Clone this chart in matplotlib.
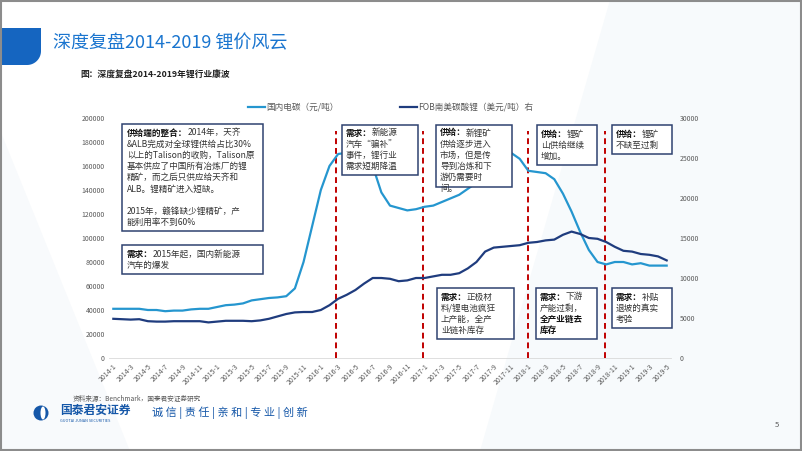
import matplotlib
matplotlib.use("Agg")
import numpy as np
import matplotlib.pyplot as plt
from matplotlib.patches import Rectangle, Polygon, Ellipse

plt.rcParams["font.family"] = ["Noto Sans CJK SC", "DejaVu Sans"]

W, H = 802, 451

# monthly categories 2014-1 .. 2019-5
months = [f"{y}-{m}" for y in range(2014, 2020) for m in range(1, 13)][:65]
tick_labels = months[::2]

# 国内电碳 (元/吨), left axis
domestic = [41000, 41000, 41000, 41000, 40000, 40000, 39000, 39500, 39500, 40500, 41000, 41000,
            42500, 44000, 44500, 45500, 48000, 49000, 50000, 50500, 51500, 58000, 80000, 110000,
            140000, 160000, 170000, 171000, 170000, 168000, 160000, 138000, 127000, 125000, 123000, 124000,
            126000, 127000, 130000, 133000, 136000, 141000, 146000, 150000, 156000, 165000, 171000, 166000,
            156000, 155000, 154000, 149000, 137000, 122000, 105000, 90000, 80000, 78000, 80000, 80000,
            78000, 79000, 77000, 77000, 77000]

# FOB南美碳酸锂 (美元/吨), right axis
fob = [4900, 4850, 4800, 4850, 4600, 4550, 4550, 4600, 4600, 4600, 4600, 4450,
       4550, 4650, 4650, 4650, 4600, 4700, 4900, 5200, 5500, 5700, 5750, 5750,
       6000, 6600, 7400, 7900, 8500, 9300, 10000, 10000, 9900, 9600, 9700, 10000,
       10000, 10200, 10400, 10400, 10600, 11200, 12000, 13300, 13800, 13900, 14000, 14100,
       14400, 14500, 14700, 14800, 15400, 15800, 15500, 15000, 14900, 14500, 13900, 13400,
       13300, 13000, 12900, 12700, 12200]

# turning points (month index)
events = [25.8, 35.8, 48.0, 56.9]

LIGHT = "#2596CF"
DARK = "#1F3C7E"
BLUE = "#1A75CF"
BOX = "#2F4270"
GRAY = "#595959"

fig = plt.figure(figsize=(W / 100, H / 100), dpi=100)
fig.patch.set_facecolor("white")


def P(x, y):
    return x / W, 1 - y / H


# background layer in pixel coordinates
bg = fig.add_axes([0, 0, 1, 1], zorder=-5)
bg.set_xlim(0, W)
bg.set_ylim(H, 0)
bg.axis("off")
bg.add_patch(Polygon([(610, 0), (802, 0), (802, 451), (480, 451)],
                     facecolor="#F7FAFC", edgecolor="none"))
bg.add_patch(Polygon([(0, 130), (130, 451), (0, 451)],
                     facecolor="#F8FAFC", edgecolor="none"))
# header tab with rounded lower-right corner
r = 14
ang = np.linspace(0, np.pi / 2, 20)
tab = [(0, 28), (41, 28)] + [(41 - r + r * np.cos(a), 65 - r + r * np.sin(a)) for a in ang] + [(0, 65)]
bg.add_patch(Polygon(tab, facecolor="#1565C0", edgecolor="none"))
# logo
bg.add_patch(Ellipse((41, 413), 15, 15, facecolor="#1557A8", edgecolor="none"))
bg.add_patch(Ellipse((43, 413), 5, 13, facecolor="white", edgecolor="none"))
bg.add_patch(Rectangle((1, 1), W - 2, H - 2, facecolor="none", edgecolor="#8C8C8C", lw=1.5))

fig.text(*P(53, 43), "深度复盘2014-2019 锂价风云", fontsize=13, color=BLUE,
         fontweight="medium", va="center", ha="left")
fig.text(*P(80, 75), "图：深度复盘2014-2019年锂行业康波", fontsize=6.3,
         fontweight="bold", color="#222222", va="center", ha="left")

ax = fig.add_axes([109 / W, 93 / H, 562 / W, 240 / H], zorder=1)
ax.set_facecolor("none")
x = list(range(len(months)))
ax.plot(x, domestic, color=LIGHT, lw=1.6, zorder=3)
ax.set_xlim(-0.5, len(months) - 0.5)
ax.set_ylim(0, 200000)
ax.set_yticks(range(0, 200001, 20000))
ax.tick_params(axis="y", length=0, labelsize=5, labelcolor=GRAY, pad=3)
ax.set_xticks(x[::2])
ax.set_xticklabels(tick_labels, rotation=45, ha="right", va="top",
                   rotation_mode="anchor", fontsize=5, color=GRAY)
ax.tick_params(axis="x", length=0, pad=3)
for s in ["top", "left", "right"]:
    ax.spines[s].set_visible(False)
ax.spines["bottom"].set_color("#D9D9D9")
ax.spines["bottom"].set_linewidth(0.6)
for e in events:
    ax.axvline(e, ymax=0.946, color="#C00000", lw=1.4, ls=(0, (3, 2)), zorder=2)

ax2 = ax.twinx()
ax2.plot(x, fob, color=DARK, lw=1.6, zorder=3)
ax2.set_ylim(0, 30000)
ax2.set_yticks(range(0, 30001, 5000))
ax2.tick_params(axis="y", length=0, labelsize=5, labelcolor=GRAY, pad=6)
for s in ax2.spines.values():
    s.set_visible(False)

# legend
fig.lines.append(plt.Line2D([248 / W, 265 / W], [1 - 107 / H] * 2, color=LIGHT, lw=1.6,
                            transform=fig.transFigure))
fig.text(*P(266, 107), "国内电碳（元/吨）", fontsize=6.2, color=GRAY, va="center")
fig.lines.append(plt.Line2D([400 / W, 417 / W], [1 - 107 / H] * 2, color=DARK, lw=1.6,
                            transform=fig.transFigure))
fig.text(*P(418, 107), "FOB南美碳酸锂（美元/吨）右", fontsize=6.2, color=GRAY, va="center")

fig.canvas.draw()
renderer = fig.canvas.get_renderer()


def box(x0, y0, x1, y1):
    fig.patches.append(Rectangle(P(x0, y1), (x1 - x0) / W, (y1 - y0) / H,
                                 transform=fig.transFigure, facecolor="white",
                                 edgecolor=BOX, lw=1.1, zorder=4))


def lines(x0, y0, rows, step=11.2, fs=6.2):
    for i, row in enumerate(rows):
        xx = x0
        for text, bold in row:
            t = fig.text(*P(xx, y0 + i * step), text, fontsize=fs, va="center", ha="left",
                         color="#111111" if bold else "#333333",
                         fontweight="bold" if bold else "normal", zorder=5)
            xx += t.get_window_extent(renderer).width


box(122, 124, 263, 231)
lines(127, 133, [
    [("供给端的整合：", True), ("2014年，天齐", False)],
    [("&ALB完成对全球锂供给占比30%", False)],
    [("以上的Talison的收购，Talison原", False)],
    [("基本供应了中国所有冶炼厂的锂", False)],
    [("精矿，而之后只供应给天齐和", False)],
    [("ALB。锂精矿进入短缺。", False)],
    [],
    [("2015年，赣锋缺少锂精矿，产", False)],
    [("能利用率不到60%", False)],
])

box(122, 245, 263, 274)
lines(127, 254, [
    [("需求：", True), ("2015年起，国内新能源", False)],
    [("汽车的爆发", False)],
])

box(342, 125, 418, 175)
lines(346, 133, [
    [("需求：", True), ("新能源", False)],
    [("汽车“骗补”", False)],
    [("事件，锂行业", False)],
    [("需求短期降温", False)],
])

box(436, 125, 512, 187)
lines(440, 133, [
    [("供给：", True), ("新锂矿", False)],
    [("供给逐步进入", False)],
    [("市场，但是传", False)],
    [("导到冶炼和下", False)],
    [("游仍需要时", False)],
    [("间。", False)],
])

box(537, 125, 597, 165)
lines(541, 134, [
    [("供给：", True), ("锂矿", False)],
    [("山供给继续", False)],
    [("增加。", False)],
])

box(612, 125, 672, 154)
lines(616, 134, [
    [("供给：", True), ("锂矿", False)],
    [("不缺至过剩", False)],
])

box(437, 288, 514, 339)
lines(441, 297, [
    [("需求：", True), ("正极材", False)],
    [("料/锂电池疯狂", False)],
    [("上产能，全产", False)],
    [("业链补库存", False)],
])

box(536, 288, 597, 339)
lines(540, 297, [
    [("需求：", True), ("下游", False)],
    [("产能过剩，", False)],
    [("全产业链去", True)],
    [("库存", True)],
])

box(612, 288, 672, 328)
lines(616, 297, [
    [("需求：", True), ("补贴", False)],
    [("退坡的真实", False)],
    [("考验", False)],
])

# footer
fig.text(*P(73, 399), "资料来源：Benchmark，国泰君安证券研究", fontsize=4.8, color=GRAY, va="center")
fig.text(*P(60, 410), "国泰君安证券", fontsize=8.5, fontweight="bold", color="#1557A8", va="center")
fig.text(*P(60, 421), "GUOTAI JUNAN SECURITIES", fontsize=2.8, color="#1557A8", va="center")
fig.text(*P(152, 413), "诚 信 | 责 任 | 亲 和 | 专 业 | 创 新", fontsize=8, color="#1557A8",
         va="center")
fig.text(*P(775, 425), "5", fontsize=5.5, color=GRAY, va="center")

fig.savefig("out.png", dpi=100)
